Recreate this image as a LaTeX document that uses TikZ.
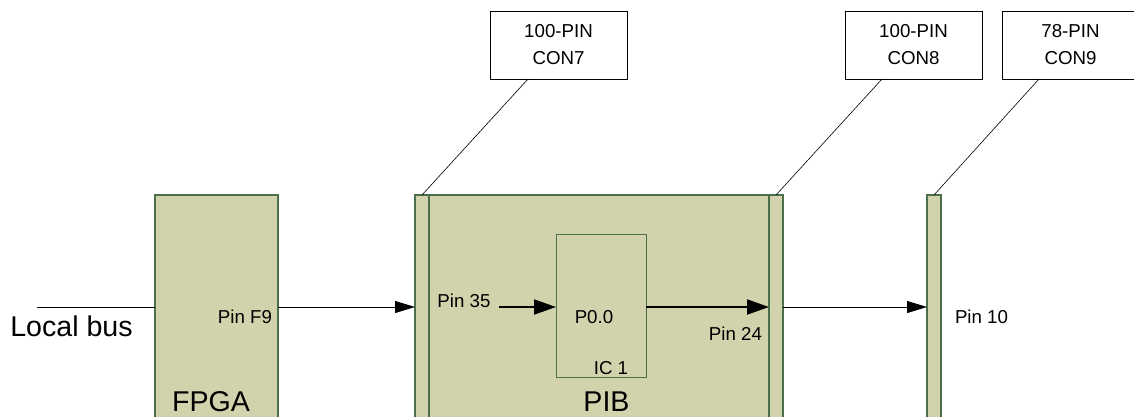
\documentclass[tikz,border=0pt]{standalone}
\usepackage{fontspec}
\setmainfont{Liberation Sans}
\usetikzlibrary{arrows.meta}

\definecolor{boardfill}{RGB}{210,210,172}
\definecolor{boardline}{RGB}{75,110,75}

\tikzset{
  board/.style={draw=boardline, line width=1.2pt, fill=boardfill, rectangle,
    inner sep=0pt, outer sep=0pt, anchor=north west},
  chip/.style={draw=boardline, line width=1pt, rectangle, inner sep=0pt,
    outer sep=0pt, anchor=north west},
  callout/.style={draw, line width=0.8pt, rectangle, inner sep=0pt, outer sep=0pt,
    minimum width=137pt, minimum height=68pt, anchor=north west, align=center,
    font=\fontsize{18.7}{27}\selectfont},
  small/.style={font=\fontsize{18.7}{22}\selectfont, inner sep=0pt},
  big/.style={font=\fontsize{28.6}{32}\selectfont, inner sep=0pt},
  thinarrow/.style={line width=0.8pt, -{Triangle[length=20pt,width=12pt]}},
  bigarrow/.style={line width=2pt, -{Triangle[length=22pt,width=15pt]}},
  leader/.style={line width=0.6pt}
}

\begin{document}
\begin{tikzpicture}[x=1pt, y=-1pt]
\clip (0,0) rectangle (1134,416);

% Boards
\node[board, minimum width=123pt, minimum height=250pt] (fpga) at (155,195) {};
\node[board, minimum width=368pt, minimum height=250pt] (pib) at (415,195) {};
\node[board, minimum width=14pt, minimum height=250pt] (lstrip) at (415,195) {};
\node[board, minimum width=14pt, minimum height=250pt] (rstrip) at (769,195) {};
\node[board, minimum width=14pt, minimum height=250pt] (c9strip) at (927,195) {};
\node[chip, minimum width=90pt, minimum height=143pt] (ic) at (556,234) {};

% Connector labels
\node[callout] (con7) at (490,11) {100-PIN\\CON7};
\node[callout] (con8) at (845,11) {100-PIN\\CON8};
\node[callout] (con9) at (1002,11) {78-PIN\\CON9};

\draw[leader] ([xshift=38pt]con7.south west) -- (lstrip.north);
\draw[leader] ([xshift=37pt]con8.south west) -- (rstrip.north);
\draw[leader] ([xshift=37pt]con9.south west) -- (c9strip.north);

% Texts
\node[big] (bustxt) at (71.5,326) {Local bus};
\node[big] (fpgatxt) at (211,402) {FPGA};
\node[big] (pibtxt) at (606.5,402) {PIB};
\node[small] (pf9) at (245,317) {Pin F9};
\node[small] (p35) at (464,301) {Pin 35};
\node[small] (p00) at (594,317) {P0.0};
\node[small] (ictxt) at (611,368) {IC 1};
\node[small] (p24) at (735.5,334) {Pin 24};
\node[small] (p10) at (981.5,317) {Pin 10};

% Signal path
\coordinate (bus) at (37,307);
\draw[line width=0.8pt] (bus) -- (bus -| fpga.west);
\draw[thinarrow] (fpga.east |- bus) -- (bus -| pib.west);
\draw[bigarrow] ([xshift=8pt]p35.east |- bus) -- (ic.west |- bus);
\draw[bigarrow] (ic.east |- bus) -- (rstrip.west |- bus);
\draw[thinarrow] (rstrip.east |- bus) -- (c9strip.west |- bus);

\end{tikzpicture}
\end{document}
